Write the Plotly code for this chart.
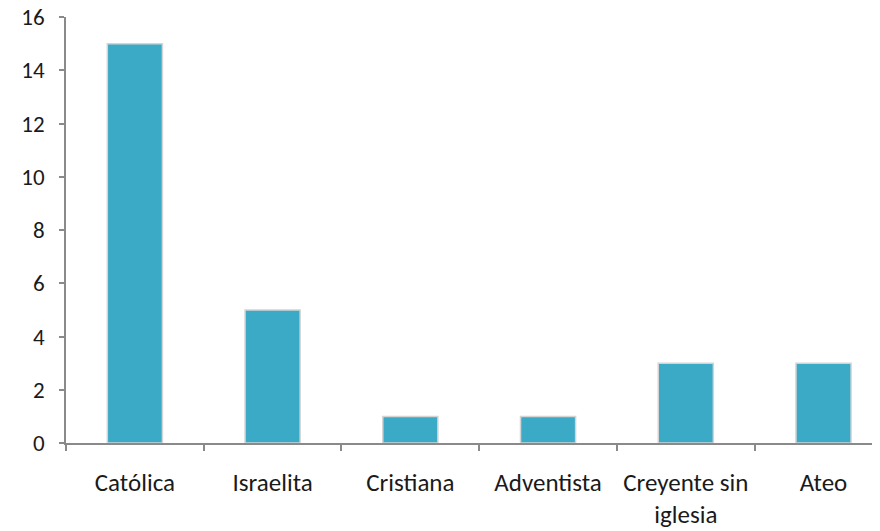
import plotly.graph_objects as go

categories = ["Católica", "Israelita", "Cristiana", "Adventista", "Creyente sin<br>iglesia", "Ateo"]
values = [15, 5, 1, 1, 3, 3]
y_ticks = [0, 2, 4, 6, 8, 10, 12, 14, 16]

FONT = "Carlito, Calibri, Lato, sans-serif"

# The page body adds an 8px offset; size the figure so it fits the 880x531 window.
fig = go.Figure(
    go.Bar(
        x=categories,
        y=values,
        width=0.4,
        marker=dict(color="#3BAAC7", line=dict(color="#d4d4d4", width=1.5)),
    )
)

fig.update_layout(
    width=872,
    height=523,
    margin=dict(l=58, r=0, t=9, b=88),
    paper_bgcolor="white",
    plot_bgcolor="white",
    showlegend=False,
    font=dict(family=FONT, size=25, color="#1a1a1a"),
)

fig.update_xaxes(
    type="category",
    range=[-0.5, 5.41],
    automargin=False,
    showline=True,
    linecolor="#8a8a8a",
    linewidth=1.5,
    ticks="outside",
    tickson="boundaries",
    ticklen=6,
    tickwidth=1.5,
    tickcolor="#8a8a8a",
    showgrid=False,
    ticklabelstandoff=16,
    ticklabeloverflow="allow",
    tickfont=dict(family=FONT, size=25, color="#1a1a1a"),
)

fig.update_yaxes(
    range=[0, 16],
    tickvals=y_ticks,
    automargin=False,
    showline=True,
    linecolor="#8a8a8a",
    linewidth=1.5,
    ticks="outside",
    ticklen=5,
    tickwidth=1.5,
    tickcolor="#8a8a8a",
    showgrid=False,
    zeroline=False,
    ticklabelstandoff=10,
    ticklabeloverflow="allow",
    tickfont=dict(family=FONT, size=23, color="#1a1a1a"),
)

fig.write_html("out.html")
